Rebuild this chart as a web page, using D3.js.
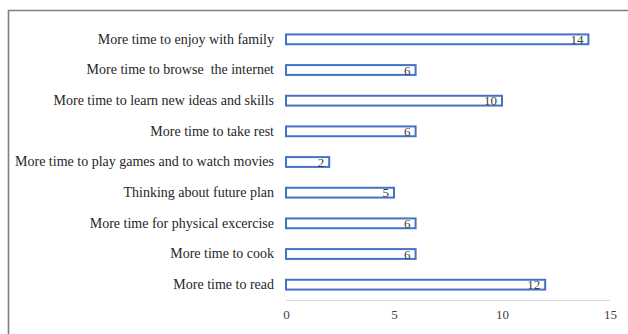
<!DOCTYPE html>
<html><head><meta charset="utf-8">
<script src="https://cdn.jsdelivr.net/npm/d3@7"></script>
<style>body{margin:0;background:#fff}svg{display:block}text{white-space:pre}</style>
</head><body>
<svg id="c" width="628" height="334"></svg>
<script>
const categories = [
  "More time to enjoy with family",
  "More time to browse  the internet",
  "More time to learn new ideas and skills",
  "More time to take rest",
  "More time to play games and to watch movies",
  "Thinking about future plan",
  "More time for physical excercise",
  "More time to cook",
  "More time to read"
];
const values = [14, 6, 10, 6, 2, 5, 6, 6, 12];
const xTicks = [0, 5, 10, 15];

const svg = d3.select("#c");
// outer frame
svg.append("path").attr("d","M8.5,340 V10.5 H640").attr("fill","none")
  .attr("stroke","#7f7f7f").attr("stroke-width",1.6);

const x = d3.scaleLinear().domain([0,15]).range([286,610]);
const y = d3.scaleBand().domain(categories).range([24,300]).paddingInner(0.68).paddingOuter(0.34);

// axis line
svg.append("line").attr("x1",x(0)).attr("x2",x(15)).attr("y1",300.5).attr("y2",300.5)
  .attr("stroke","#d9d9d9").attr("stroke-width",1);

const xAxis = d3.axisBottom(x).tickValues(xTicks).tickSize(0).tickPadding(10);
const gx = svg.append("g").attr("transform","translate(0,300)").call(xAxis);
gx.select(".domain").remove();
gx.selectAll("text").attr("font-family","'Liberation Serif','Times New Roman',serif")
  .attr("font-size",13).attr("fill","#404040");

const yAxis = d3.axisLeft(y).tickSize(0).tickPadding(12);
const gy = svg.append("g").attr("transform",`translate(${x(0)},0)`).call(yAxis);
gy.select(".domain").remove();
gy.selectAll("text").attr("font-family","'Liberation Serif','Times New Roman',serif")
  .attr("font-size",14).attr("fill","#262626").style("white-space","pre");

svg.append("g").selectAll("rect").data(values).join("rect")
  .attr("x",x(0)).attr("y",(d,i)=>y(categories[i]))
  .attr("width",d=>x(d)-x(0)).attr("height",y.bandwidth())
  .attr("fill","#fff").attr("stroke","#4472c4").attr("stroke-width",2);

svg.append("g").selectAll("text").data(values).join("text")
  .attr("x",d=>x(d)-5).attr("y",(d,i)=>y(categories[i])+y.bandwidth()/2)
  .attr("dy","0.35em").attr("text-anchor","end")
  .attr("font-family","'Liberation Serif','Times New Roman',serif")
  .attr("font-size",13).attr("fill","#404040").text(d=>d);
</script>
</body></html>
